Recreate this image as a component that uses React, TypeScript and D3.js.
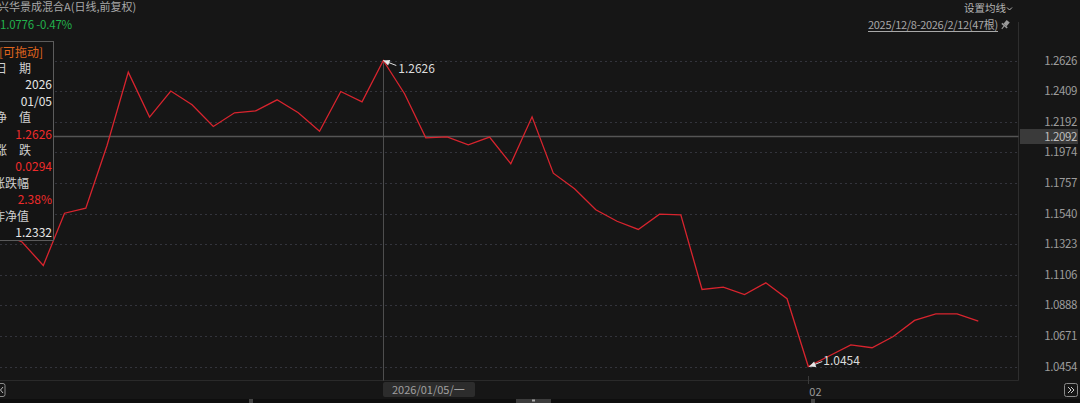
import React from "react";
import * as d3 from "d3";

const dates = [
  "2025/12/08","2025/12/09","2025/12/10","2025/12/11","2025/12/12",
  "2025/12/15","2025/12/16","2025/12/17","2025/12/18","2025/12/19",
  "2025/12/22","2025/12/23","2025/12/24","2025/12/25","2025/12/26",
  "2025/12/29","2025/12/30","2025/12/31",
  "2026/01/05","2026/01/06","2026/01/07","2026/01/08","2026/01/09",
  "2026/01/12","2026/01/13","2026/01/14","2026/01/15","2026/01/16",
  "2026/01/19","2026/01/20","2026/01/21","2026/01/22","2026/01/23",
  "2026/01/26","2026/01/27","2026/01/28","2026/01/29","2026/01/30",
  "2026/02/02","2026/02/03","2026/02/04","2026/02/05","2026/02/06",
  "2026/02/09","2026/02/10","2026/02/11","2026/02/12",
];

const nav = [
  1.1400, 1.1338, 1.1171, 1.1542, 1.1578,
  1.2023, 1.2543, 1.2224, 1.2409, 1.2312,
  1.2158, 1.2255, 1.2269, 1.2347, 1.2255,
  1.2124, 1.2406, 1.2332,
  1.2626, 1.2390, 1.2077, 1.2084, 1.2028,
  1.2082, 1.1893, 1.2226, 1.1826, 1.1715,
  1.1566, 1.1485, 1.1427, 1.1535, 1.1531,
  1.1001, 1.1017, 1.0965, 1.1048, 1.0935,
  1.0454, 1.0530, 1.0608, 1.0587, 1.0667,
  1.0781, 1.0828, 1.0827, 1.0776,
];

const yTicks = [1.2626, 1.2409, 1.2192, 1.1974, 1.1757, 1.1540, 1.1323, 1.1106, 1.0888, 1.0671, 1.0454];

const title = "兴华景成混合A(日线,前复权)";
const latestText = "1.0776 -0.47%";
const rangeText = "2025/12/8-2026/2/12(47根)";
const maLabel = "设置均线";
const crossValue = 1.2092;
const selectedIndex = 18;
const monthLabel = "02";
const monthIndex = 38;

const tipRows: { label?: string; value?: string; red?: boolean }[] = [
  { label: "日期" },
  { value: "2026" },
  { value: "01/05" },
  { label: "净值" },
  { value: "1.2626", red: true },
  { label: "涨跌" },
  { value: "0.0294", red: true },
  { label: "涨跌幅" },
  { value: "2.38%", red: true },
  { label: "昨净值" },
  { value: "1.2332" },
];

const W = 1080;
const H = 403;
const BG = "#161616";
const GRID = "#33343c";
const AXIS_TXT = "#9c9c9c";
const LINE = "#d8242e";
const FONT = "'Noto Sans CJK SC', 'Noto Sans', sans-serif";

export default function App() {
  const plotRight = 1018.5;
  const plotBottom = 380.5;
  const x = d3.scaleLinear().domain([0, nav.length - 1]).range([0.8, 978.3]);
  const y = d3.scaleLinear().domain([1.0454, 1.2626]).range([366.5, 60.5]);
  const line = d3
    .line<number>()
    .x((_, i) => x(i))
    .y((d) => y(d));

  const maxI = d3.maxIndex(nav);
  const minI = d3.minIndex(nav);
  const selX = Math.round(x(selectedIndex)) + 0.5;
  const crossY = Math.round(y(crossValue)) + 0.5;

  const arrow = (px: number, py: number, tx: number, ty: number) => {
    const ang = Math.atan2(ty - py, tx - px);
    const L = 7;
    const a1 = ang + 0.45;
    const a2 = ang - 0.45;
    return (
      <g>
        <line x1={px} y1={py} x2={tx} y2={ty} stroke="#e0e0e0" strokeWidth={1} />
        <path
          d={`M${px},${py}L${px + L * Math.cos(a1)},${py + L * Math.sin(a1)}L${px + L * Math.cos(a2)},${py + L * Math.sin(a2)}Z`}
          fill="#e8e8e8"
        />
      </g>
    );
  };

  const rowY = (k: number) => 68.9 + k * 16.4;

  return (
    <svg
      width={W}
      height={H}
      style={{ position: "fixed", left: 0, top: 0, background: BG, fontFamily: FONT }}
    >
      <rect x={0} y={0} width={W} height={H} fill={BG} />

      {/* header */}
      <text x={-2} y={11} fontSize={11} fill="#a8a8a8">{title}</text>
      <text x={0} y={29} fontSize={11.5} fill="#22b14c" letterSpacing={-0.2}>{latestText}</text>
      <text x={964} y={12} fontSize={10.5} fill="#b4b4b4">{maLabel}</text>
      <path d="M1007,7.5 L1009.5,10 L1012,7.5" fill="none" stroke="#b4b4b4" strokeWidth={1} />
      <text x={868} y={29} fontSize={11} fill="#a8a8a8" letterSpacing={-0.3}>{rangeText}</text>
      <line x1={868} y1={31.5} x2={998} y2={31.5} stroke="#a8a8a8" strokeWidth={1} />
      <g transform="translate(1005,25) rotate(40)">
        <rect x={-2} y={-5} width={4} height={5} fill="#9a9a9a" />
        <rect x={-3.5} y={0} width={7} height={1.5} fill="#9a9a9a" />
        <line x1={0} y1={1.5} x2={0} y2={5} stroke="#9a9a9a" strokeWidth={1} />
      </g>

      {/* grid */}
      {yTicks.map((t) => (
        <line
          key={t}
          x1={0}
          x2={plotRight}
          y1={Math.round(y(t)) + 0.5}
          y2={Math.round(y(t)) + 0.5}
          stroke={GRID}
          strokeWidth={1}
          strokeDasharray="2,3"
        />
      ))}

      {/* plot borders */}
      <line x1={plotRight} x2={plotRight} y1={22} y2={plotBottom} stroke="#2e2e2e" strokeWidth={1} />
      <line x1={0} x2={plotRight} y1={plotBottom} y2={plotBottom} stroke="#2a2a2a" strokeWidth={1} />

      {/* right axis labels */}
      {yTicks.map((t) => (
        <text
          key={t}
          x={1077}
          y={y(t) + 4}
          fontSize={11.5}
          fill={AXIS_TXT}
          textAnchor="end"
          letterSpacing={-0.4}
        >
          {t.toFixed(4)}
        </text>
      ))}

      {/* crosshair */}
      <line x1={selX} x2={selX} y1={y(nav[selectedIndex])} y2={plotBottom} stroke="#4e4e4e" strokeWidth={1} />
      <line x1={0} x2={plotRight} y1={crossY} y2={crossY} stroke="#555555" strokeWidth={1.5} />
      <rect x={1020} y={crossY - 7.5} width={58} height={15} fill="#3a3a3a" />
      <text x={1077} y={crossY + 4.5} fontSize={11.5} fill="#bdbdbd" textAnchor="end" letterSpacing={-0.4}>
        {crossValue.toFixed(4)}
      </text>

      {/* series */}
      <path d={line(nav) || ""} fill="none" stroke={LINE} strokeWidth={1.3} strokeLinejoin="miter" />

      {/* max / min annotations */}
      {arrow(x(maxI), y(nav[maxI]), x(maxI) + 13, y(nav[maxI]) + 5)}
      <text x={x(maxI) + 15} y={y(nav[maxI]) + 12} fontSize={12} fill="#dcdcdc">
        {nav[maxI].toFixed(4)}
      </text>
      {arrow(x(minI) + 1, y(nav[minI]), x(minI) + 14, y(nav[minI]) - 5)}
      <text x={x(minI) + 15} y={y(nav[minI]) - 2} fontSize={12} fill="#dcdcdc">
        {nav[minI].toFixed(4)}
      </text>

      {/* tooltip */}
      <rect x={-20} y={41.5} width={73.5} height={199} fill="#141414" stroke="#5c5c5c" strokeWidth={1} />
      <text x={21} y={56.5} fontSize={12} fill="#e0661e" textAnchor="middle">[可拖动]</text>
      {tipRows.map((r, k) => {
        const yy = rowY(k) + 4;
        if (r.label) {
          if (r.label.length === 2) {
            return (
              <g key={k}>
                <text x={-5} y={yy} fontSize={12} fill="#d0d0d0">{r.label[0]}</text>
                <text x={31} y={yy} fontSize={12} fill="#d0d0d0" textAnchor="end">{r.label[1]}</text>
              </g>
            );
          }
          return (
            <text key={k} x={-7} y={yy} fontSize={12} fill="#d0d0d0">{r.label}</text>
          );
        }
        return (
          <text
            key={k}
            x={52}
            y={yy}
            fontSize={12}
            fill={r.red ? "#ef2b2b" : "#e6e6e6"}
            textAnchor="end"
          >
            {r.value}
          </text>
        );
      })}

      {/* bottom axis */}
      <rect x={383} y={382} width={92} height={15} rx={2} fill="#2c2c2c" />
      <text x={392} y={393.5} fontSize={11} fill="#a0a0a0">
        {dates[selectedIndex]}/一
      </text>
      <line x1={Math.round(x(monthIndex)) + 0.5} x2={Math.round(x(monthIndex)) + 0.5} y1={376} y2={384} stroke="#3a3a3a" strokeWidth={1} />
      <text x={x(monthIndex) + 1} y={396} fontSize={11} fill="#9a9a9a">{monthLabel}</text>

      {/* nav buttons */}
      <rect x={-4} y={383.5} width={9} height={13} rx={2} fill="none" stroke="#8a8a8a" strokeWidth={1} />
      <path d="M3,387 L0.5,390 L3,393" fill="none" stroke="#bbb" strokeWidth={1} />
      <rect x={1064.5} y={383.5} width={13} height={13} rx={2} fill="none" stroke="#8a8a8a" strokeWidth={1} />
      <path d="M1068,387 L1071,390 L1068,393 M1071,387 L1074,390 L1071,393" fill="none" stroke="#ccc" strokeWidth={1} />

      {/* scrollbar */}
      <rect x={0} y={399} width={W} height={4} fill="#0e0e0e" />
      <rect x={249} y={399} width={4} height={4} fill="#444" />
      <rect x={516} y={399} width={35} height={4} fill="#3c3c3c" />
      <rect x={532} y={399.5} width={3} height={2} fill="#aaa" />
      <rect x={811} y={399} width={4} height={4} fill="#444" />
    </svg>
  );
}
